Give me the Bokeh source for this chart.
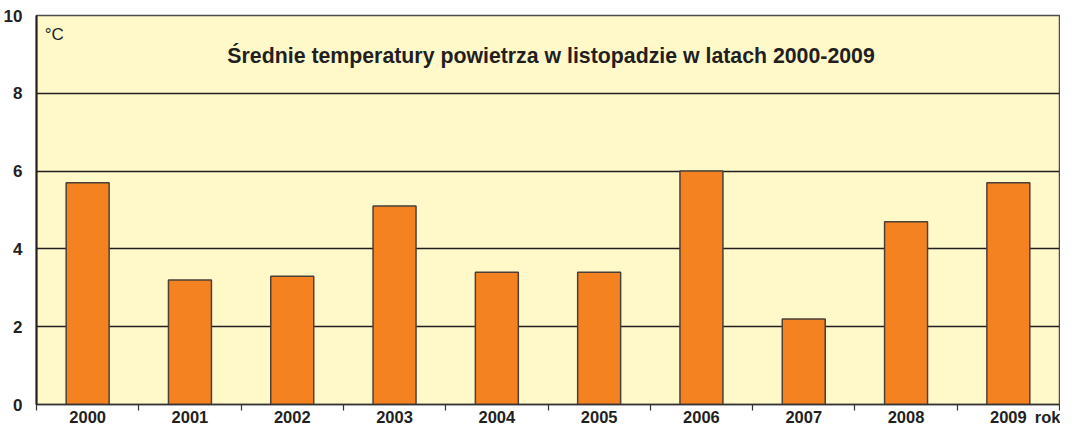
from bokeh.plotting import figure
from bokeh.models import FixedTicker, Label, Range1d
from bokeh.embed import file_html
from bokeh.resources import INLINE

years = [2000, 2001, 2002, 2003, 2004, 2005, 2006, 2007, 2008, 2009]
temps = [5.7, 3.2, 3.3, 5.1, 3.4, 3.4, 6.0, 2.2, 4.7, 5.7]
y_ticks = [0, 2, 4, 6, 8, 10]
title_text = "Średnie temperatury powietrza w listopadzie w latach 2000-2009"
unit_text = "°C"
x_unit_text = "rok"

FONT = "Liberation Sans"
DARK = "#231F20"

p = figure(width=1060, height=428, output_backend="svg", toolbar_location=None,
           x_range=Range1d(years[0] - 0.5, years[-1] + 0.5),
           y_range=Range1d(0, 10),
           min_border_left=28, min_border_right=1, min_border_top=15, min_border_bottom=0)

p.background_fill_color = "#FFF9CA"
p.border_fill_color = "white"
p.outline_line_color = "#4D4D4D"
p.outline_line_width = 1.5

p.vbar(x=years, top=temps, width=0.42, bottom=0,
       fill_color="#F58220", line_color="#4A4038", line_width=1.5)

# grid
p.xgrid.visible = False
p.ygrid.ticker = FixedTicker(ticks=[2, 4, 6, 8])
p.ygrid.grid_line_color = DARK
p.ygrid.grid_line_width = 1.3

# y axis
p.yaxis.ticker = FixedTicker(ticks=y_ticks)
p.yaxis.major_tick_line_color = None
p.yaxis.minor_tick_line_color = None
p.yaxis.major_label_standoff = 8
p.yaxis.major_label_text_font = FONT
p.yaxis.major_label_text_font_style = "bold"
p.yaxis.major_label_text_font_size = "17px"
p.yaxis.major_label_text_color = DARK
p.yaxis.axis_line_color = DARK
p.yaxis.axis_line_width = 2

# x axis: year labels at bar centres, tick marks at category boundaries,
# plus the unit "rok" as an extra label right of 2009
rok_pos = years[-1] + 0.45
boundaries = [y - 0.5 for y in years] + [years[-1] + 0.5]
p.xaxis.ticker = FixedTicker(ticks=years + [rok_pos], minor_ticks=boundaries)
overrides = {y: str(y) for y in years}
overrides[rok_pos] = x_unit_text
p.xaxis.major_label_overrides = overrides
p.xaxis.major_tick_line_color = None
p.xaxis.major_tick_out = 0
p.xaxis.major_tick_in = 0
p.xaxis.minor_tick_in = 0
p.xaxis.minor_tick_out = 6
p.xaxis.minor_tick_line_color = "#333333"
p.xaxis.minor_tick_line_width = 1.2
p.xaxis.major_label_standoff = -3
p.xaxis.major_label_text_font = FONT
p.xaxis.major_label_text_font_style = "bold"
p.xaxis.major_label_text_font_size = "16.5px"
p.xaxis.major_label_text_color = DARK
p.xaxis.axis_line_color = "#333333"
p.xaxis.axis_line_width = 1.5

# texts inside the plot area
p.add_layout(Label(x=2004.53, y=8.95, text=title_text, text_font=FONT,
                   text_font_style="bold", text_font_size="21.3px", text_color=DARK,
                   text_align="center", text_baseline="middle"))
p.add_layout(Label(x=1999.58, y=9.5, text=unit_text, text_font=FONT,
                   text_font_size="17px", text_color=DARK,
                   text_align="left", text_baseline="middle"))

open("out.html", "w").write(file_html(p, INLINE))
